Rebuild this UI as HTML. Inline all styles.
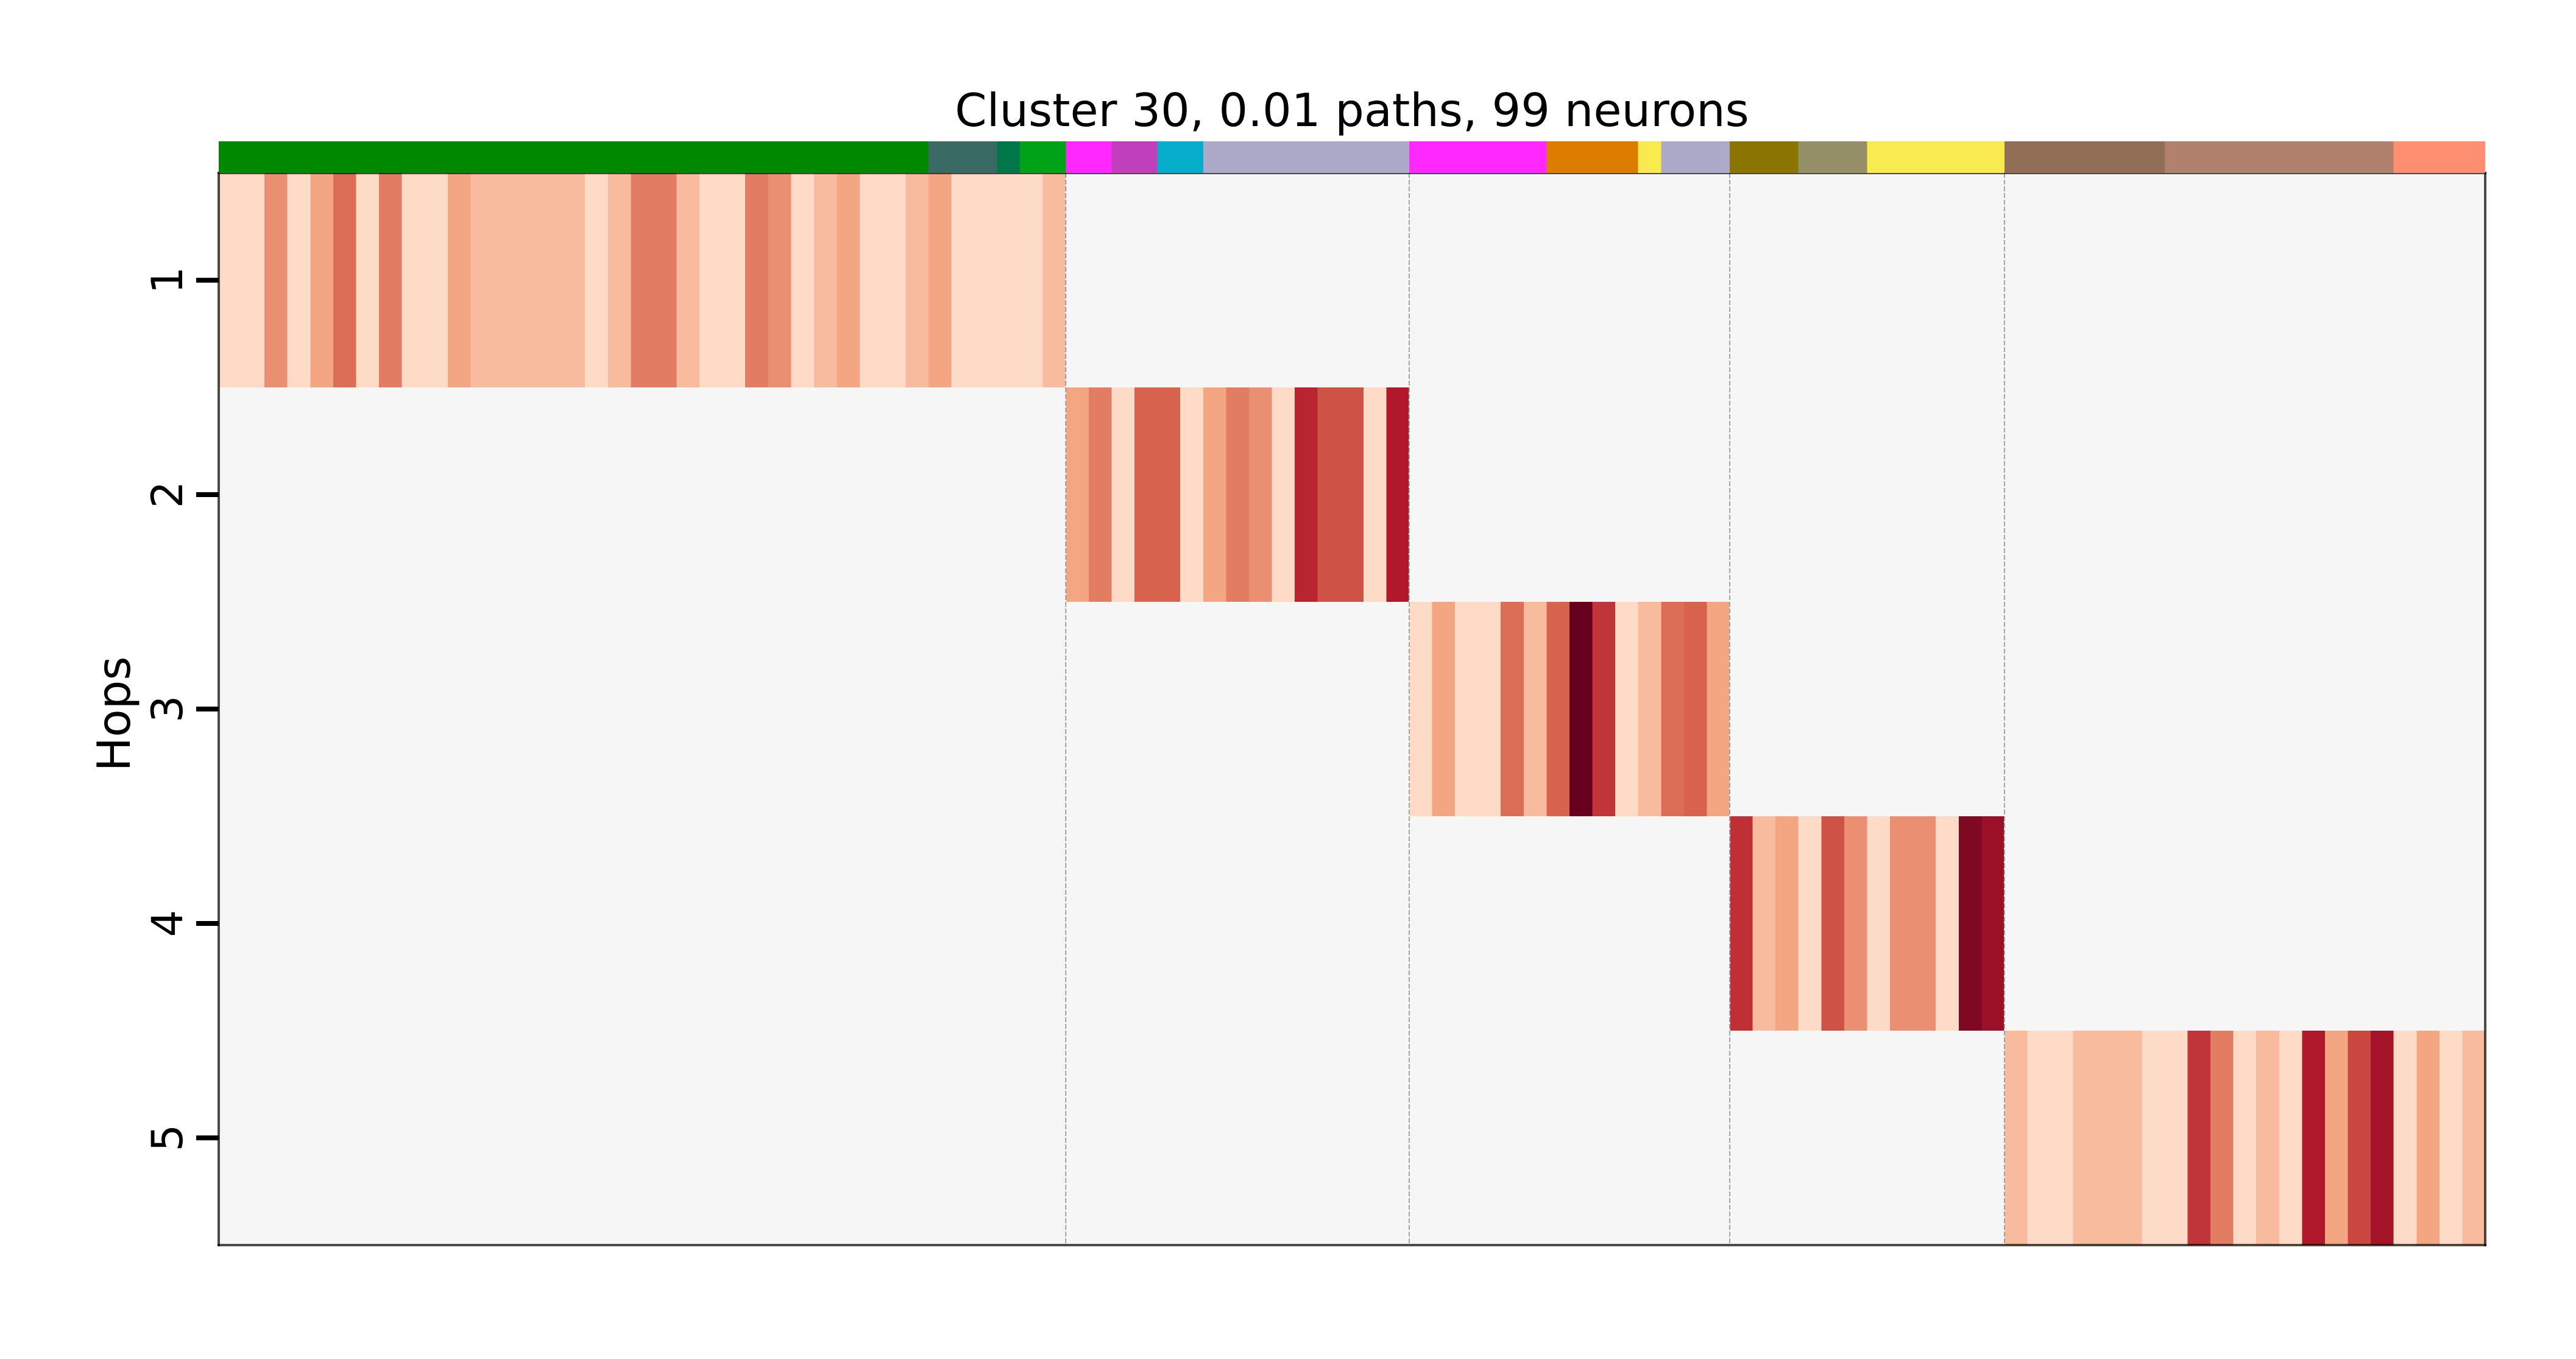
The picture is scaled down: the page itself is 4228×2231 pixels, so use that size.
<!DOCTYPE html>
<html lang="en">
<head>
<meta charset="utf-8">
<title>Cluster 30, 0.01 paths, 99 neurons</title>
<style>
  html, body { margin: 0; padding: 0; background: #ffffff; }
  svg { display: block; }
  text { font-family: "DejaVu Sans", "Liberation Sans", sans-serif; fill: #000000; }
</style>
</head>
<body>
<svg id="chart" xmlns="http://www.w3.org/2000/svg" width="4228" height="2231" viewBox="0 0 4228 2231">
  <rect x="0" y="0" width="4228" height="2231" fill="#ffffff"/>
  <rect x="359" y="284" width="3720" height="1760" fill="#f6f6f6"/>
  <g id="cells" shape-rendering="crispEdges"></g>
  <g id="separators"></g>
  <g id="spines">
    <line x1="357" y1="284" x2="4081" y2="284" stroke="#000" stroke-opacity="0.7" stroke-width="4"/>
    <line x1="359" y1="282" x2="359" y2="2046" stroke="#000" stroke-opacity="0.7" stroke-width="4"/>
    <line x1="4079" y1="282" x2="4079" y2="2046" stroke="#000" stroke-opacity="0.7" stroke-width="4"/>
    <line x1="357" y1="2044" x2="4081" y2="2044" stroke="#000" stroke-opacity="0.7" stroke-width="4"/>
  </g>
  <g id="type-bar" shape-rendering="crispEdges"></g>
  <g id="y-ticks"></g>
  <text x="2219" y="207" font-size="75" text-anchor="middle">Cluster 30, 0.01 paths, 99 neurons</text>
  <text x="213" y="1172" font-size="75" text-anchor="middle" transform="rotate(-90 213 1172)">Hops</text>
</svg>
<script>
// Chart data: colour-scale intensity (0..1) of each neuron at its hop.
const hop1Values = [0,0,0.33,0,0.25,0.45,0,0.40,0,0,0.25,0.148,0.148,0.148,0.148,0.148,0,0.148,0.40,0.40,0.148,0,0,0.40,0.33,0,0.148,0.25,0,0,0.148,0.25,0,0,0,0,0.148];
const hop2Values = [0.25,0.40,0,0.49,0.49,0,0.25,0.40,0.33,0,0.71,0.55,0.55,0,0.75];
const hop3Values = [0,0.25,0,0,0.45,0.148,0.49,1,0.65,0,0.148,0.45,0.49,0.25];
const hop4Values = [0.67,0.148,0.25,0,0.55,0.33,0,0.33,0.33,0,0.92,0.83];
const hop5Values = [0.148,0,0,0.148,0.148,0.148,0,0,0.65,0.40,0,0.148,0,0.76,0.25,0.59,0.79,0,0.25,0,0.148];
const hopSeries = [hop1Values, hop2Values, hop3Values, hop4Values, hop5Values];

const hopTickLabels = ['1', '2', '3', '4', '5'];

// Neuron-type strip above the heatmap: type key and neuron count per run.
const neuronTypeKeys = ['type-a','type-b','type-c','type-d','type-e','type-f','type-g','type-h','type-e','type-i','type-j','type-h','type-k','type-l','type-j','type-m','type-n','type-o'];
const neuronTypeCounts = [31,3,1,2,2,2,2,9,6,4,1,3,3,3,6,7,10,4];

const typePalette = {
  'type-a': '#008800', 'type-b': '#3a6a64', 'type-c': '#00764a', 'type-d': '#00a318',
  'type-e': '#ff29ff', 'type-f': '#c040bc', 'type-g': '#05adcb', 'type-h': '#adaac9',
  'type-i': '#dd7d00', 'type-j': '#f9ea4f', 'type-k': '#8b7500', 'type-l': '#948f66',
  'type-m': '#906f56', 'type-n': '#b0826d', 'type-o': '#ff8f70'
};

const colorStops = [[253,219,199],[244,165,130],[214,96,77],[178,24,43],[103,0,31]];

const plotLeft = 359, plotRight = 4079, plotTop = 284, plotBottom = 2044;
const barTop = 232;
const NS = 'http://www.w3.org/2000/svg';

const totalColumns = hopSeries.reduce(function (sum, s) { return sum + s.length; }, 0);

function xScale(column) {
  return plotLeft + (plotRight - plotLeft) * column / totalColumns;
}
function yScale(row) {
  return plotTop + (plotBottom - plotTop) * row / hopSeries.length;
}
function colorScale(value) {
  const t = Math.max(0, Math.min(1, value)) * (colorStops.length - 1);
  const i = Math.min(Math.floor(t), colorStops.length - 2);
  const f = t - i;
  const a = colorStops[i], b = colorStops[i + 1];
  return 'rgb(' + Math.round(a[0] + (b[0] - a[0]) * f) + ',' +
    Math.round(a[1] + (b[1] - a[1]) * f) + ',' +
    Math.round(a[2] + (b[2] - a[2]) * f) + ')';
}

const cellsGroup = document.getElementById('cells');
const separatorsGroup = document.getElementById('separators');
const barGroup = document.getElementById('type-bar');
const ticksGroup = document.getElementById('y-ticks');

let columnCursor = 0;
hopSeries.forEach(function (series, row) {
  series.forEach(function (value, offset) {
    const column = columnCursor + offset;
    const cell = document.createElementNS(NS, 'rect');
    
    
    cell.setAttribute('x', xScale(column));
    cell.setAttribute('y', yScale(row));
    cell.setAttribute('width', xScale(column + 1) - xScale(column));
    cell.setAttribute('height', yScale(row + 1) - yScale(row));
    cell.setAttribute('fill', colorScale(value));
    cellsGroup.appendChild(cell);
  });
  columnCursor += series.length;
  if (row < hopSeries.length - 1) {
    const halo = document.createElementNS(NS, 'line');
    
    
    halo.setAttribute('x1', xScale(columnCursor));
    halo.setAttribute('x2', xScale(columnCursor));
    halo.setAttribute('y1', plotTop);
    halo.setAttribute('y2', plotBottom);
    halo.setAttribute('stroke', '#ffffff');
    halo.setAttribute('stroke-width', '1.6');
    separatorsGroup.appendChild(halo);

    const sep = document.createElementNS(NS, 'line');
    
    
    sep.setAttribute('x1', xScale(columnCursor));
    sep.setAttribute('x2', xScale(columnCursor));
    sep.setAttribute('y1', plotTop);
    sep.setAttribute('y2', plotBottom);
    sep.setAttribute('stroke', '#808080');
    sep.setAttribute('stroke-width', '1.4');
    sep.setAttribute('stroke-dasharray', '8 3');
    separatorsGroup.appendChild(sep);
  }
});

let typeCursor = 0;
neuronTypeKeys.forEach(function (key, index) {
  const count = neuronTypeCounts[index];
  const seg = document.createElementNS(NS, 'rect');
  
  
  seg.setAttribute('x', xScale(typeCursor));
  seg.setAttribute('y', barTop);
  seg.setAttribute('width', xScale(typeCursor + count) - xScale(typeCursor));
  seg.setAttribute('height', plotTop - barTop);
  seg.setAttribute('fill', typePalette[key]);
  barGroup.appendChild(seg);
  typeCursor += count;
});

hopTickLabels.forEach(function (label, row) {
  const y = (yScale(row) + yScale(row + 1)) / 2;
  const tick = document.createElementNS(NS, 'line');
  
  
  tick.setAttribute('x1', plotLeft - 37);
  tick.setAttribute('x2', plotLeft);
  tick.setAttribute('y1', y);
  tick.setAttribute('y2', y);
  tick.setAttribute('stroke', '#000');
  tick.setAttribute('stroke-width', '8');
  ticksGroup.appendChild(tick);

  const text = document.createElementNS(NS, 'text');
  
  
  text.setAttribute('x', 299);
  text.setAttribute('y', y);
  text.setAttribute('font-size', '70');
  text.setAttribute('text-anchor', 'middle');
  text.setAttribute('transform', 'rotate(-90 299 ' + y + ')');
  text.textContent = label;
  ticksGroup.appendChild(text);
});
</script>
</body>
</html>
